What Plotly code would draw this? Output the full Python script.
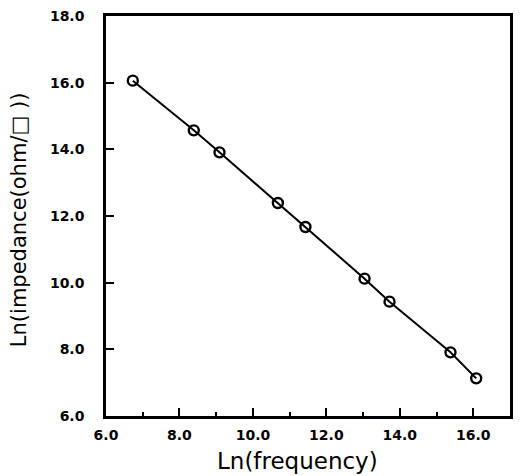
import plotly.graph_objects as go

ln_freq = [6.73, 8.39, 9.09, 10.68, 11.43, 13.04, 13.72, 15.38, 16.08]
ln_imp = [16.06, 14.57, 13.91, 12.39, 11.67, 10.12, 9.43, 7.91, 7.13]

x_ticks = [6, 8, 10, 12, 14, 16]
y_ticks = [6, 8, 10, 12, 14, 16, 18]

fig = go.Figure()
fig.add_trace(go.Scatter(
    x=ln_freq, y=ln_imp, mode="lines+markers",
    line=dict(color="black", width=2),
    marker=dict(symbol="circle-open", size=10, color="black", line=dict(width=2.4)),
    showlegend=False,
))

tickfont = dict(family="DejaVu Sans, Verdana", size=14, color="black", weight="bold")
fig.update_layout(
    width=521, height=476,
    margin=dict(l=106, r=8, t=13, b=60),
    plot_bgcolor="white", paper_bgcolor="white",
    xaxis=dict(range=[6, 17], tickvals=x_ticks, tickformat=".1f",
               ticks="inside", ticklen=8, tickwidth=2, tickcolor="black",
               showline=True, linecolor="black", linewidth=2.5, mirror=True,
               showgrid=False, zeroline=False,
               tickfont=tickfont, ticklabelstandoff=4,
               minor=dict(tickvals=[7, 9, 11, 13, 15], ticks="inside", ticklen=4,
                          tickwidth=1.5, tickcolor="black", showgrid=False)),
    yaxis=dict(range=[6, 18], tickvals=y_ticks, tickformat=".1f",
               ticks="inside", ticklen=8, tickwidth=2, tickcolor="black",
               showline=True, linecolor="black", linewidth=2.5, mirror=True,
               showgrid=False, zeroline=False,
               tickfont=tickfont, ticklabelstandoff=16),
    font=dict(family="DejaVu Sans, Verdana", color="black"),
    annotations=[
        dict(text="Ln(frequency)",
             xref="paper", yref="paper", x=0.475, y=-0.075, yanchor="top",
             xanchor="center", showarrow=False,
             font=dict(family="DejaVu Sans, Verdana", size=23, color="black")),
        dict(text="Ln(impedance(ohm/\u25a1 ))", textangle=-90,
             xref="paper", yref="paper", x=-0.215, y=0.49, xanchor="center",
             yanchor="middle", showarrow=False,
             font=dict(family="DejaVu Sans, Verdana", size=21, color="black")),
    ],
)

fig.write_html("out.html")
